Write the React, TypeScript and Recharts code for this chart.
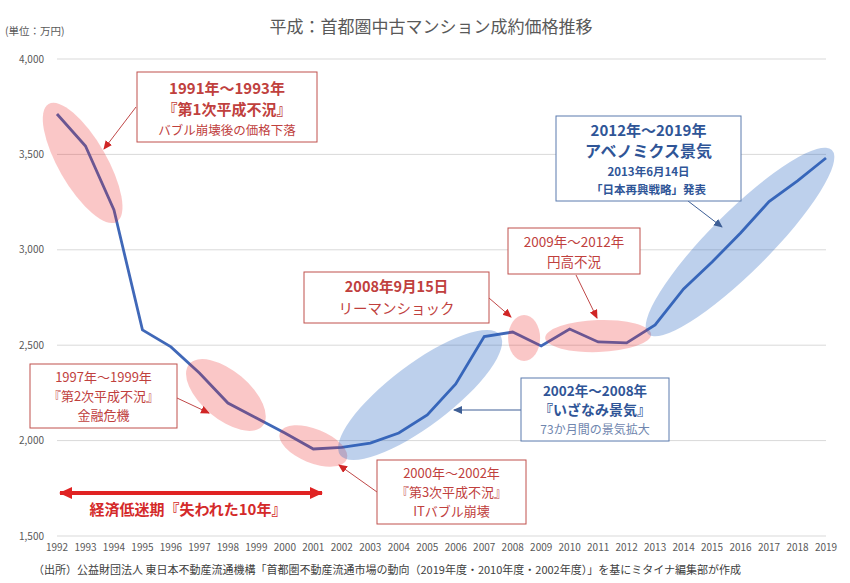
import { LineChart, Line, XAxis, YAxis, CartesianGrid, ReferenceDot } from 'recharts';

const YEARS = [1992, 1993, 1994, 1995, 1996, 1997, 1998, 1999, 2000, 2001, 2002, 2003, 2004, 2005, 2006, 2007, 2008, 2009, 2010, 2011, 2012, 2013, 2014, 2015, 2016, 2017, 2018, 2019];
const PRICES = [3712, 3544, 3209, 2580, 2491, 2354, 2197, 2118, 2040, 1956, 1965, 1987, 2040, 2134, 2297, 2545, 2569, 2496, 2585, 2517, 2512, 2606, 2795, 2936, 3088, 3253, 3361, 3481];
const Y_TICKS = [1500, 2000, 2500, 3000, 3500, 4000];

const data = YEARS.map((year, i) => ({ year, price: PRICES[i] }));

const FONT = '"Noto Sans CJK JP", "Noto Sans", sans-serif';
const RED = '#C0403D';
const RED_BORDER = '#C0504D';
const BLUE = '#2F5597';
const BLUE_BORDER = '#5A7BAE';
const RED_FILL = 'rgba(235,30,30,0.25)';
const BLUE_FILL = 'rgba(38,98,192,0.3)';

// highlight ellipses, centred in data coordinates
const HIGHLIGHTS = [
  { year: 1992.9, value: 3455, rx: 68, ry: 24, angle: 60, fill: RED_FILL },
  { year: 1997.93, value: 2239, rx: 48, ry: 24, angle: 40, fill: RED_FILL },
  { year: 2001.0, value: 1972, rx: 36, ry: 17, angle: 22, fill: RED_FILL },
  { year: 2004.75, value: 2239, rx: 100, ry: 31, angle: -37, fill: BLUE_FILL },
  { year: 2008.4, value: 2538, rx: 16, ry: 23, angle: 0, fill: RED_FILL },
  { year: 2011.0, value: 2548, rx: 53, ry: 16, angle: -2, fill: RED_FILL },
  { year: 2015.98, value: 3041, rx: 130, ry: 30, angle: -45, fill: BLUE_FILL },
];

type TextLine = { text: string; y: number; size: number; bold?: boolean; color: string };

function Box({ x, y, w, h, stroke, lines }: { x: number; y: number; w: number; h: number; stroke: string; lines: TextLine[] }) {
  return (
    <g>
      <rect x={x} y={y} width={w} height={h} fill="#fff" stroke={stroke} strokeWidth={1} />
      {lines.map((l) => (
        <text key={l.text} x={x + w / 2} y={l.y} textAnchor="middle" fontSize={l.size} fontWeight={l.bold ? 700 : 400} fill={l.color}>
          {l.text}
        </text>
      ))}
    </g>
  );
}

function Overlay() {
  return (
    <svg width={850} height={583} style={{ position: 'absolute', left: 0, top: 0, pointerEvents: 'none', fontFamily: FONT }}>
      <defs>
        <marker id="headRed" markerWidth="10" markerHeight="10" refX="8" refY="4" orient="auto" markerUnits="userSpaceOnUse">
          <path d="M0,0 L9,4 L0,8 Z" fill="#D02525" />
        </marker>
        <marker id="headBlue" markerWidth="10" markerHeight="10" refX="8" refY="4" orient="auto" markerUnits="userSpaceOnUse">
          <path d="M0,0 L9,4 L0,8 Z" fill="#3E5F96" />
        </marker>
        <marker id="headBig" markerWidth="16" markerHeight="14" refX="12" refY="6" orient="auto-start-reverse" markerUnits="userSpaceOnUse">
          <path d="M0,0 L13,6 L0,12 Z" fill="#E02323" />
        </marker>
      </defs>

      <text x={431} y={33} textAnchor="middle" fontSize={17} fill="#595959">平成：首都圏中古マンション成約価格推移</text>
      <text x={5} y={35} fontSize={10.5} fill="#595959">(単位：万円)</text>

      {/* arrows */}
      <line x1={136} y1={107} x2={104} y2={149} stroke="#C04848" strokeWidth={1} markerEnd="url(#headRed)" />
      <line x1={177} y1={398} x2={209} y2={413} stroke="#C04848" strokeWidth={1} markerEnd="url(#headRed)" />
      <line x1={377} y1={492} x2={339} y2={465} stroke="#C04848" strokeWidth={1} markerEnd="url(#headRed)" />
      <line x1={489} y1={298} x2={511} y2={317} stroke="#C04848" strokeWidth={1} markerEnd="url(#headRed)" />
      <line x1={576} y1={275} x2={597} y2={318} stroke="#C04848" strokeWidth={1} markerEnd="url(#headRed)" />
      <line x1={521} y1={410} x2={454} y2={410} stroke="#3E5F96" strokeWidth={1} markerEnd="url(#headBlue)" />
      <line x1={688} y1={201} x2={722} y2={227} stroke="#3E5F96" strokeWidth={1} markerEnd="url(#headBlue)" />
      <line x1={60} y1={493} x2={322} y2={493} stroke="#E02323" strokeWidth={4} markerStart="url(#headBig)" markerEnd="url(#headBig)" />
      <text x={188} y={515} textAnchor="middle" fontSize={15} fontWeight={700} fill="#D42A2A">経済低迷期『失われた10年』</text>

      <Box x={137} y={72} w={180} h={70} stroke={RED_BORDER} lines={[
        { text: '1991年～1993年', y: 94, size: 15, bold: true, color: RED },
        { text: '『第1次平成不況』', y: 115, size: 15, bold: true, color: RED },
        { text: 'バブル崩壊後の価格下落', y: 135, size: 12.5, color: RED },
      ]} />
      <Box x={30} y={364} w={147} h={64} stroke={RED_BORDER} lines={[
        { text: '1997年～1999年', y: 382, size: 13, color: RED },
        { text: '『第2次平成不況』', y: 401, size: 13, color: RED },
        { text: '金融危機', y: 420, size: 13, color: RED },
      ]} />
      <Box x={377} y={460} w={149} h={64} stroke={RED_BORDER} lines={[
        { text: '2000年～2002年', y: 478, size: 13, color: RED },
        { text: '『第3次平成不況』', y: 497, size: 13, color: RED },
        { text: 'ITバブル崩壊', y: 516, size: 13, color: RED },
      ]} />
      <Box x={304} y={272} w={185} h={51} stroke={RED_BORDER} lines={[
        { text: '2008年9月15日', y: 292, size: 14.5, bold: true, color: RED },
        { text: 'リーマンショック', y: 314, size: 14.5, color: RED },
      ]} />
      <Box x={508} y={228} w={132} h={46} stroke={RED_BORDER} lines={[
        { text: '2009年～2012年', y: 247, size: 13.5, color: RED },
        { text: '円高不況', y: 267, size: 13.5, color: RED },
      ]} />
      <Box x={521} y={378} w={148} h={63} stroke={BLUE_BORDER} lines={[
        { text: '2002年～2008年', y: 396, size: 13.5, bold: true, color: BLUE },
        { text: '『いざなみ景気』', y: 415, size: 14, bold: true, color: BLUE },
        { text: '73か月間の景気拡大', y: 434, size: 12, color: '#6F86AE' },
      ]} />
      <Box x={556} y={116} w={185} h={85} stroke={BLUE_BORDER} lines={[
        { text: '2012年～2019年', y: 136, size: 15, bold: true, color: BLUE },
        { text: 'アベノミクス景気', y: 157, size: 16, bold: true, color: BLUE },
        { text: '2013年6月14日', y: 176, size: 11.5, bold: true, color: BLUE },
        { text: '「日本再興戦略」発表', y: 194, size: 11.5, bold: true, color: BLUE },
      ]} />

      <text x={33} y={574} fontSize={11} fill="#404040">（出所）公益財団法人 東日本不動産流通機構「首都圏不動産流通市場の動向（2019年度・2010年度・2002年度）」を基にミタイナ編集部が作成</text>
    </svg>
  );
}

export default function App() {
  return (
    <div style={{ position: 'absolute', left: 0, top: 0, width: 850, height: 583, background: '#fff', fontFamily: FONT }}>
      <LineChart width={850} height={583} data={data} margin={{ top: 59, right: 24, left: 7, bottom: 19 }}>
        <CartesianGrid vertical={false} stroke="#D9D9D9" />
        <XAxis
          dataKey="year"
          type="number"
          domain={[1992, 2019]}
          ticks={YEARS}
          interval={0}
          axisLine={false}
          tickLine={false}
          height={28}
          tick={{ fontSize: 10, fill: '#595959' }}
        />
        <YAxis
          domain={[1500, 4000]}
          ticks={Y_TICKS}
          axisLine={false}
          tickLine={false}
          width={50}
          tickMargin={7}
          tick={{ fontSize: 10, fill: '#595959' }}
          tickFormatter={(v: number) => v.toLocaleString('en-US')}
        />
        <Line type="linear" dataKey="price" stroke="#4068B8" strokeWidth={2.8} dot={false} isAnimationActive={false} />
        {HIGHLIGHTS.map((h, i) => (
          <ReferenceDot
            key={i}
            x={h.year}
            y={h.value}
            r={1}
            ifOverflow="visible"
            shape={(p: any) => (
              <ellipse cx={p.cx} cy={p.cy} rx={h.rx} ry={h.ry} fill={h.fill} stroke="none" transform={`rotate(${h.angle} ${p.cx} ${p.cy})`} />
            )}
          />
        ))}
      </LineChart>
      <Overlay />
    </div>
  );
}
